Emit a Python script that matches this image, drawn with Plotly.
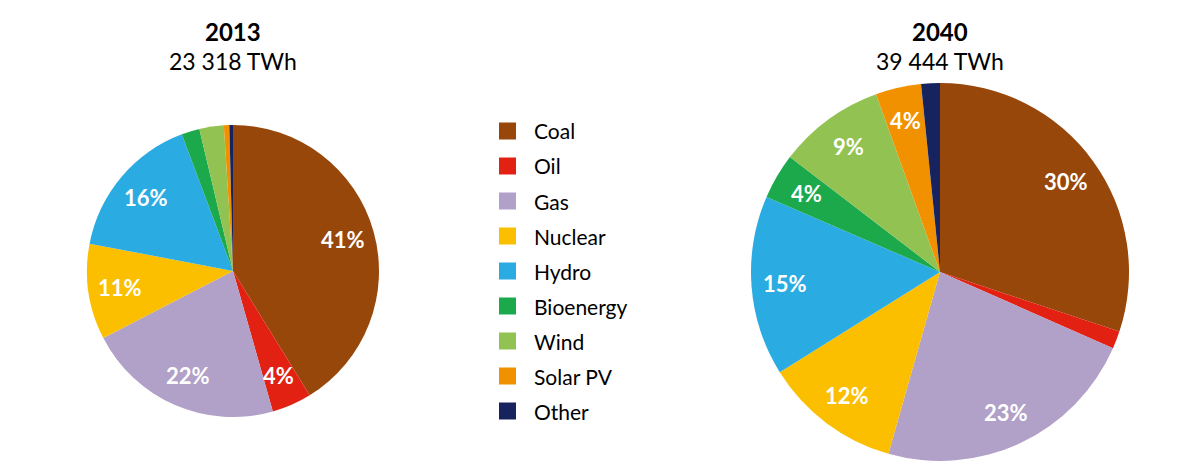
import math
import plotly.graph_objects as go

OFF = 8  # default page body margin
W, H = 1202 - 2 * OFF, 475 - 2 * OFF

categories = ["Coal", "Oil", "Gas", "Nuclear", "Hydro", "Bioenergy", "Wind", "Solar PV", "Other"]
colors = ["#974709", "#E32112", "#B1A0C7", "#FBBF00", "#2AABE2", "#1BA94C", "#92C352", "#F29100", "#17235E"]

share_2013 = [41.2, 4.4, 21.8, 10.6, 16.3, 2.0, 2.7, 0.6, 0.4]
labels_2013 = ["41%", "4%", "22%", "11%", "16%", "", "", "", ""]
share_2040 = [30.1, 1.5, 22.8, 11.7, 15.4, 3.9, 9.1, 3.9, 1.6]
labels_2040 = ["30%", "", "23%", "12%", "15%", "4%", "9%", "4%", ""]

titles = ["2013", "2040"]
totals = ["23 318 TWh", "39 444 TWh"]

FONT = "Lato, Open Sans, sans-serif"

def px_x(x):
    return (x - OFF) / W

def px_y(y):
    return 1 - (y - OFF) / H

fig = go.Figure()
annotations = []

pies = [
    (share_2013, labels_2013, (233, 271, 146), 0.78),
    (share_2040, labels_2040, (940, 272, 189), 0.82),
]
for vals, labs, (cx, cy, r), lab_frac in pies:
    fig.add_trace(go.Pie(
        labels=categories,
        values=vals,
        textinfo="none",
        marker=dict(colors=colors, line=dict(width=0)),
        sort=False,
        direction="clockwise",
        rotation=0,
        showlegend=False,
        hoverinfo="label+percent",
        domain=dict(x=[px_x(cx - r), px_x(cx + r)], y=[px_y(cy + r), px_y(cy - r)]),
    ))
    # slice labels placed along each slice's mid-angle
    total = sum(vals)
    cum = 0.0
    for v, lab in zip(vals, labs):
        mid = (cum + v / 2) / total * 2 * math.pi
        cum += v
        if not lab:
            continue
        lx = cx + lab_frac * r * math.sin(mid)
        ly = cy - lab_frac * r * math.cos(mid)
        annotations.append(dict(x=px_x(lx), y=px_y(ly), xref="paper", yref="paper", text=f"<b>{lab}</b>",
                                showarrow=False, font=dict(family=FONT, size=22, color="white"),
                                xanchor="center", yanchor="middle"))

for (_, _, (cx, _, _), _), t, tot in zip(pies, titles, totals):
    annotations.append(dict(x=px_x(cx), y=px_y(31), xref="paper", yref="paper", text=f"<b>{t}</b>",
                            showarrow=False, font=dict(family=FONT, size=24, color="black"),
                            xanchor="center", yanchor="middle"))
    annotations.append(dict(x=px_x(cx), y=px_y(61), xref="paper", yref="paper", text=tot,
                            showarrow=False, font=dict(family=FONT, size=23, color="black"),
                            xanchor="center", yanchor="middle"))

shapes = []
leg_x0, leg_size, leg_text_x, leg_y0, leg_dy = 499, 17, 532, 131, 35
for i, (cat, col) in enumerate(zip(categories, colors)):
    yc = leg_y0 + i * leg_dy
    shapes.append(dict(type="rect", xref="paper", yref="paper",
                       x0=px_x(leg_x0), x1=px_x(leg_x0 + leg_size),
                       y0=px_y(yc + leg_size / 2), y1=px_y(yc - leg_size / 2),
                       fillcolor=col, line=dict(width=0)))
    annotations.append(dict(x=px_x(leg_text_x), y=px_y(yc), xref="paper", yref="paper", text=cat,
                            showarrow=False, font=dict(family=FONT, size=21, color="black"),
                            xanchor="left", yanchor="middle"))

fig.update_layout(
    width=W, height=H, autosize=False,
    margin=dict(l=0, r=0, t=0, b=0),
    paper_bgcolor="white", plot_bgcolor="white",
    annotations=annotations, shapes=shapes,
)

fig.write_html("out.html")
